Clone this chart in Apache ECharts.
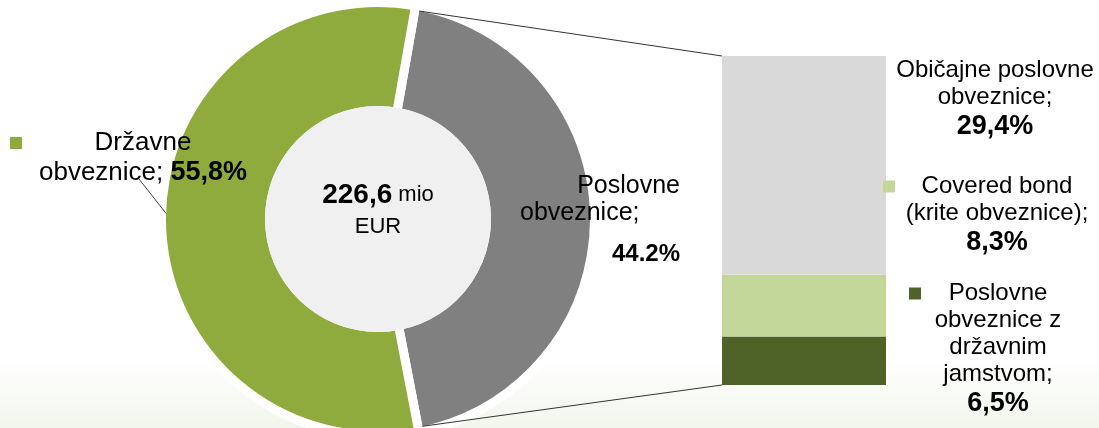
<!DOCTYPE html>
<html>
<head>
<meta charset="utf-8">
<script src="https://cdn.jsdelivr.net/npm/echarts@6/dist/echarts.min.js"></script>
<style>html,body{margin:0;padding:0;background:#fff}#c{width:1099px;height:428px}</style>
</head>
<body>
<div id="c"></div>
<script>
// ---- data ----
const pieNames = ['Poslovne obveznice', 'Državne obveznice'];
const pieValues = [44.2, 55.8];
const pieColors = ['#808080', '#8fab3e'];
const pieLabelLines = [['Poslovne', 'obveznice;'], ['Državne', 'obveznice; ']];

const barNames = ['Poslovne obveznice z državnim jamstvom', 'Covered bond (krite obveznice)', 'Običajne poslovne obveznice'];
const barValues = [6.5, 8.3, 29.4];
const barColors = ['#4f6228', '#c4d79b', '#d9d9d9'];
const barLabelLines = [['Poslovne', 'obveznice z', 'državnim', 'jamstvom;'], ['Covered bond', '(krite obveznice);'], ['Običajne poslovne', 'obveznice;']];

const totalValue = '226,6';
const totalUnitA = 'mio';
const totalUnitB = 'EUR';

// ---- chart ----
const FONT = '"Liberation Sans", Arial, sans-serif';
const chart = echarts.init(document.getElementById('c'), null, {renderer: 'canvas'});
const comma = v => v.toFixed(1).replace('.', ',') + '%';
const barSum = barValues.reduce((a, b) => a + b, 0);

function squareRich(color) {
  return {width: 12, height: 12, backgroundColor: color, align: 'left'};
}

const pieData = pieNames.map((n, i) => {
  const item = {name: n, value: pieValues[i], itemStyle: {color: pieColors[i]}, labelLine: {show: false}};
  if (i === 0) {
    item.label = {
      width: 160,
      formatter: '{r|' + pieLabelLines[0][0] + '}\n{l|' + pieLabelLines[0][1] + '}\n{rb|' + pieValues[0].toFixed(1) + '%}',
      rich: {
        r: {fontFamily: FONT, fontSize: 25, lineHeight: 27, align: 'right', color: '#000'},
        l: {fontFamily: FONT, fontSize: 25, lineHeight: 27, align: 'left', color: '#000'},
        rb: {fontFamily: FONT, fontSize: 24, fontWeight: 'bold', lineHeight: 54, align: 'right', color: '#000'}
      }
    };
  } else {
    item.label = {
      width: 266,
      formatter: '{sq|}{c|' + pieLabelLines[1][0] + '}{sp|}\n{c|' + pieLabelLines[1][1] + '}{cb|' + comma(pieValues[1]) + '}',
      rich: {
        sq: squareRich(pieColors[1]),
        sp: {width: 12, height: 12, align: 'right'},
        c: {fontFamily: FONT, fontSize: 26, lineHeight: 30, align: 'center', color: '#000'},
        cb: {fontFamily: FONT, fontSize: 27, fontWeight: 'bold', lineHeight: 30, align: 'center', color: '#000'}
      }
    };
  }
  return item;
});

const pieCenter = [378, 219];
const BORDER = 9;

const series = [
  {
    type: 'pie',
    silent: true,
    center: pieCenter,
    radius: [113 - BORDER / 2, 212 + BORDER / 2],
    startAngle: 80,
    clockwise: true,
    avoidLabelOverlap: false,
    itemStyle: {borderColor: '#ffffff', borderWidth: BORDER},
    label: {show: true, position: 'outside'},
    labelLayout: function (p) {
      if (p.dataIndex === 1) {
        return {x: 143, y: 128, align: 'center', verticalAlign: 'top'};
      }
      return {x: 600, y: 173, align: 'center', verticalAlign: 'top'};
    },
    data: pieData,
    z: 2
  },
  {
    type: 'pie',
    silent: true,
    center: pieCenter,
    radius: [0, 113],
    itemStyle: {color: '#f0f0f0'},
    label: {
      show: true,
      position: 'center',
      fontFamily: FONT,
      fontSize: 22,
      color: '#000',
      formatter: '{b|' + totalValue + '} {m|' + totalUnitA + '}\n{m|' + totalUnitB + '}',
      rich: {
        b: {fontFamily: FONT, fontSize: 28, fontWeight: 'bold', lineHeight: 32, color: '#000'},
        m: {fontFamily: FONT, fontSize: 22, lineHeight: 32, color: '#000'}
      }
    },
    labelLayout: function () {
      return {dy: -4};
    },
    labelLine: {show: false},
    data: [{name: 'Skupaj', value: 226.6}],
    z: 3
  }
];

const barLabelPos = [
  {x: 998, y: 280, w: 178},
  {x: 997, y: 173, w: 228},
  {x: 995, y: 57, w: 230}
];

barNames.forEach((n, i) => {
  const lines = barLabelLines[i];
  const rich = {
    t: {fontFamily: FONT, fontSize: 24, lineHeight: 27, align: 'center', color: '#000'},
    n: {fontFamily: FONT, fontSize: 27, fontWeight: 'bold', lineHeight: 31, align: 'center', color: '#000'},
    sq: squareRich(barColors[i]),
    sp: {width: 12, height: 12, align: 'right'}
  };
  const parts = lines.map((l, k) => (k === 0 && i < 2) ? '{sq|}{t|' + l + '}{sp|}' : '{t|' + l + '}');
  parts.push('{n|' + comma(barValues[i]) + '}');
  const fmt = parts.join('\n');
  const pos = barLabelPos[i];
  series.push({
    type: 'bar',
    name: n,
    stack: 'split',
    silent: true,
    barWidth: '100%',
    data: [barValues[i]],
    itemStyle: {color: barColors[i]},
    label: {show: true, position: 'right', width: pos.w, formatter: fmt, rich: rich},
    labelLayout: function () {
      return {x: pos.x, y: pos.y, align: 'center', verticalAlign: 'top'};
    },
    z: 2
  });
});

chart.setOption({
  animation: false,
  backgroundColor: new echarts.graphic.LinearGradient(0, 0, 0, 1, [
    {offset: 0, color: '#ffffff'},
    {offset: 0.84, color: '#ffffff'},
    {offset: 1, color: '#f2f6ec'}
  ]),
  grid: {left: 722, top: 56, width: 164, height: 329},
  xAxis: {type: 'category', data: [''], show: false},
  yAxis: {type: 'value', min: 0, max: barSum, show: false},
  series: series
});

// connector lines from the split slice to the bar, and the leader line of the left label
(function () {
  const model = chart.getModel();
  const total = pieValues.reduce((a, b) => a + b, 0);
  const cx = pieCenter[0], cy = pieCenter[1];
  const rv = 212;
  const half = BORDER / 2;
  const start = -80 * Math.PI / 180;
  const span = 2 * Math.PI * pieValues[0] / total;
  const a0 = start + half / rv;
  const a1 = start + span - half / rv;
  const pTop = [cx + rv * Math.cos(a0), cy + rv * Math.sin(a0)];
  const pBot = [cx + rv * Math.cos(a1), cy + rv * Math.sin(a1)];
  const topY = chart.convertToPixel({yAxisIndex: 0}, barSum);
  const botY = chart.convertToPixel({yAxisIndex: 0}, 0);
  const gridRect = model.getComponent('grid').coordinateSystem.getRect();
  const left = gridRect.x;
  const ag = 181.5 * Math.PI / 180;
  const ls = [cx + rv * Math.cos(ag), cy + rv * Math.sin(ag)];
  chart.setOption({
    graphic: [
      {type: 'line', silent: true, z: 10, shape: {x1: pTop[0], y1: pTop[1], x2: left, y2: topY}, style: {stroke: '#333', lineWidth: 1}},
      {type: 'line', silent: true, z: 10, shape: {x1: pBot[0], y1: pBot[1], x2: left, y2: botY}, style: {stroke: '#333', lineWidth: 1}},
      {type: 'line', silent: true, z: 10, shape: {x1: ls[0], y1: ls[1], x2: 139, y2: 179}, style: {stroke: '#404040', lineWidth: 1}}
    ]
  });
})();
</script>
</body>
</html>
